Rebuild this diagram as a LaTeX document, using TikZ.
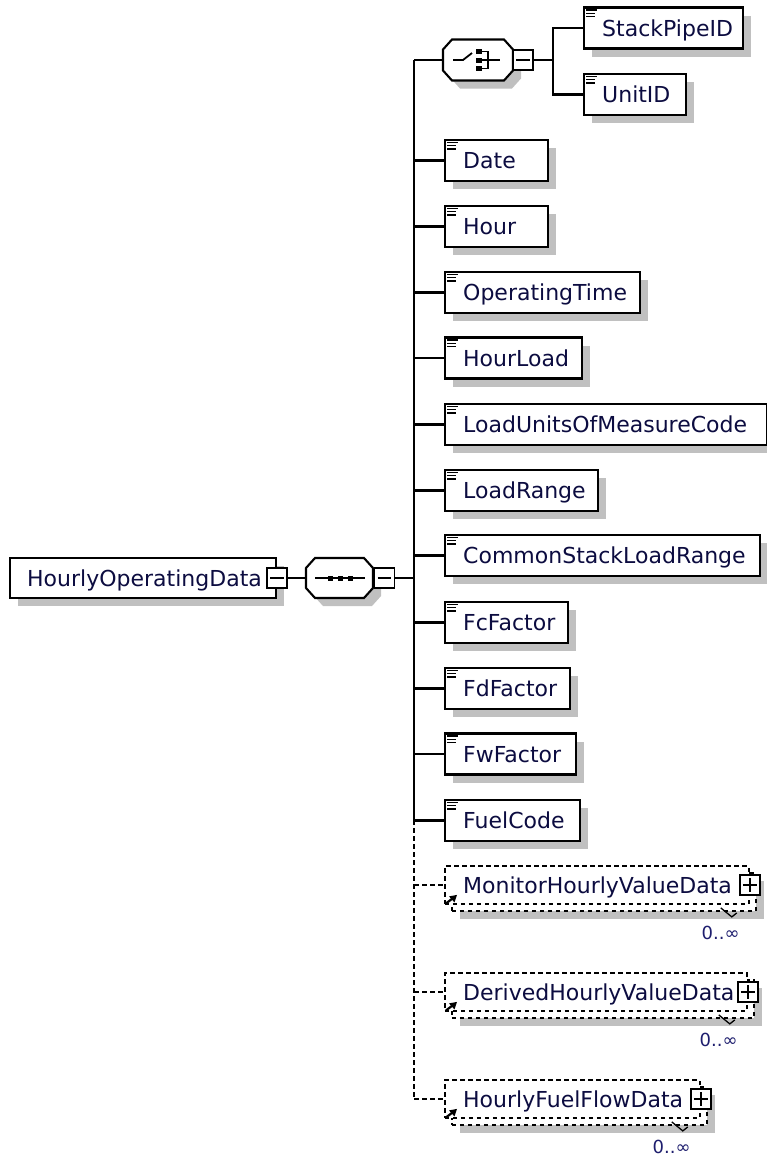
\documentclass[tikz,border=0pt]{standalone}
\usepackage{fontspec}
\setmainfont{DejaVu Sans}
\usetikzlibrary{shadows,arrows.meta}
\definecolor{shd}{RGB}{192,192,192}
\definecolor{txt}{RGB}{12,12,64}
\definecolor{occc}{RGB}{30,30,110}
\tikzset{
 elembox/.style={draw=black, line width=2.1pt, fill=white, minimum height=41pt, inner sep=0pt, anchor=west,
   drop shadow={shadow xshift=8pt, shadow yshift=-8pt, fill=shd, opacity=1}},
 lbl/.style={font=\fontsize{22}{24}\selectfont, text=txt, inner sep=0pt, anchor=west, text height=16pt, text depth=0pt},
 pmbox/.style={draw=black, line width=1.8pt, fill=white, minimum width=20pt, minimum height=20pt, inner sep=0pt},
 pmline/.style={line width=1.8pt},
 conn/.style={line width=2.1pt},
 dconn/.style={line width=1.8pt, dash pattern=on 4.5pt off 3.5pt},
 refbox/.style={draw=black, line width=1.8pt, dash pattern=on 4.5pt off 3.5pt, fill=white, inner sep=0pt, anchor=west, minimum height=38pt},
 refback/.style={refbox, drop shadow={shadow xshift=8pt, shadow yshift=-8pt, fill=shd, opacity=1}},
 occlbl/.style={font=\fontsize{18}{20}\selectfont, text=occc, inner sep=0pt, anchor=east},
 ghost/.style={inner sep=0pt, draw=none}
}
% element: name, left x, center y, width, label
\newcommand{\elemnode}[5]{%
 \node[elembox, minimum width=#4pt] (#1) at (#2,#3) {};
 \node[lbl] (#1-t) at ([xshift=19pt]#1.west) {#5};
 \draw[line width=1.4pt] ([xshift=3pt,yshift=-3.5pt]#1.north west) -- ++(11,0);
 \draw[line width=1.4pt] ([xshift=3pt,yshift=-6.8pt]#1.north west) -- ++(9,0);
 \draw[line width=1.4pt] ([xshift=3pt,yshift=-10.1pt]#1.north west) -- ++(9,0);
}
% minus box: name, at
\newcommand{\minusnode}[2]{%
 \node[pmbox] (#1) at #2 {};
 \draw[pmline] ([xshift=4pt]#1.west) -- ([xshift=-4pt]#1.east);
}
% octagon: name, cx, cy, half width, half height
\newcommand{\octnode}[5]{%
 \fill[shd] (#2-#4+8,#3-#5+10+8) -- (#2-#4+9+8,#3-#5+8) -- (#2+#4-9+8,#3-#5+8) -- (#2+#4+8,#3-#5+10+8)
   -- (#2+#4+8,#3+#5-10+8) -- (#2+#4-9+8,#3+#5+8) -- (#2-#4+9+8,#3+#5+8) -- (#2-#4+8,#3+#5-10+8) -- cycle;
 \filldraw[fill=white, draw=black, line width=2.1pt] (#2-#4,#3-#5+10) -- (#2-#4+9,#3-#5) -- (#2+#4-9,#3-#5) -- (#2+#4,#3-#5+10)
   -- (#2+#4,#3+#5-10) -- (#2+#4-9,#3+#5) -- (#2-#4+9,#3+#5) -- (#2-#4,#3+#5-10) -- cycle;
 \node[ghost, minimum width=2*#4 pt, minimum height=2*#5 pt] (#1) at (#2,#3) {};
}
% reference: name, center y, width (front box), label
\newcommand{\refnode}[4]{%
 \node[refback, minimum width=#3pt] (#1B) at (451,#2+7) {};
 \node[refbox, minimum width=#3pt] (#1) at (444,#2) {};
 \node[lbl] (#1-t) at ([xshift=19pt]#1.west) {#4};
 \node[pmbox] (#1pm) at (#1.east) {};
 \draw[pmline] ([xshift=4pt]#1pm.west) -- ([xshift=-4pt]#1pm.east);
 \draw[pmline] ([yshift=4pt]#1pm.south) -- ([yshift=-4pt]#1pm.north);
 \draw[line width=2.2pt] ([xshift=2pt,yshift=1.5pt]#1.south west) -- ([xshift=8pt,yshift=6pt]#1.south west);
 \fill ([xshift=13pt,yshift=10pt]#1.south west) -- ([xshift=5pt,yshift=8.5pt]#1.south west) -- ([xshift=10.5pt,yshift=2.5pt]#1.south west) -- cycle;
 \draw[line width=1.3pt] ([xshift=-36pt,yshift=4pt]#1B.south east) -- ([xshift=-25pt,yshift=-5pt]#1B.south east) -- ([xshift=-20pt,yshift=-1pt]#1B.south east);
 \node[occlbl] (#1-o) at ([xshift=-17pt,yshift=-21pt]#1B.south east) {0..∞};
 \draw[dconn] (#1.west -| ttop) -- (#1.west);
}
\begin{document}
\begin{tikzpicture}[x=1pt,y=-1pt]
\useasboundingbox (0,0) rectangle (767,1163);
\fill[white] (0,0) rectangle (767,1163);

% trunk coordinates
\coordinate (ttop) at (414,60);
\coordinate (tmid) at (414,578);
\coordinate (tsol) at (414,820);
\coordinate (tbot) at (414,1099);
\coordinate (br) at (553,60);

% root element
\node[elembox, minimum width=266pt, minimum height=40pt] (hod) at (9,578) {};
\node[lbl] (hod-t) at (27,578) {HourlyOperatingData};
\minusnode{hodpm}{(hod.east)}

% sequence
\octnode{seq}{339.5}{578}{33.5}{20}
\draw[line width=1.8pt] (315,578) -- (365,578);
\fill (327.5,575.5) rectangle ++(5,5);
\fill (337.5,575.5) rectangle ++(5,5);
\fill (347.5,575.5) rectangle ++(5,5);
\minusnode{seqpm}{(384.5,578)}
\draw[conn] (hodpm.east) -- (seq.west);
\draw[conn] (seqpm.east) -- (tmid);

% trunk
\draw[conn] (ttop) -- (tsol);
\draw[dconn] (tsol) -- (tbot);

% choice
\octnode{cho}{478}{60}{35}{20.5}
\draw[line width=1.8pt] (453,60) -- (463,60) -- (472,53);
\fill (476,49) rectangle ++(6,5);
\fill (476,57.5) rectangle ++(6,5);
\fill (476,66) rectangle ++(6,5);
\draw[line width=1.8pt] (482,51.5) -- (488,51.5) -- (488,68.5) -- (482,68.5);
\draw[line width=1.8pt] (482,60) -- (500,60);
\minusnode{chopm}{(523,60)}
\draw[conn] (cho.west) -- (ttop);
\draw[conn] (chopm.east) -- (br);

\elemnode{stack}{583}{28}{159}{StackPipeID}
\elemnode{unit}{583}{94.5}{102}{UnitID}
\draw[conn] (stack.west) -| (br);
\draw[conn] (unit.west) -| (br);

% elements
\elemnode{date}{444}{160.5}{103}{Date}
\elemnode{hour}{444}{226.5}{103}{Hour}
\elemnode{optime}{444}{292.5}{195}{OperatingTime}
\elemnode{hload}{444}{358}{137}{HourLoad}
\elemnode{luomc}{444}{424.5}{322}{LoadUnitsOfMeasureCode}
\elemnode{lrange}{444}{490.5}{153}{LoadRange}
\elemnode{cslr}{444}{555.5}{315}{CommonStackLoadRange}
\elemnode{fc}{444}{622.5}{123}{FcFactor}
\elemnode{fd}{444}{688.5}{125}{FdFactor}
\elemnode{fw}{444}{754}{131}{FwFactor}
\elemnode{fuel}{444}{820.5}{135}{FuelCode}
\foreach \n in {date,hour,optime,hload,luomc,lrange,cslr,fc,fd,fw,fuel}{
  \draw[conn] (\n.west -| ttop) -- (\n.west);
}

% references
\refnode{mon}{885}{304}{MonitorHourlyValueData}
\refnode{der}{992}{302}{DerivedHourlyValueData}
\refnode{hff}{1099}{255}{HourlyFuelFlowData}
\end{tikzpicture}
\end{document}
